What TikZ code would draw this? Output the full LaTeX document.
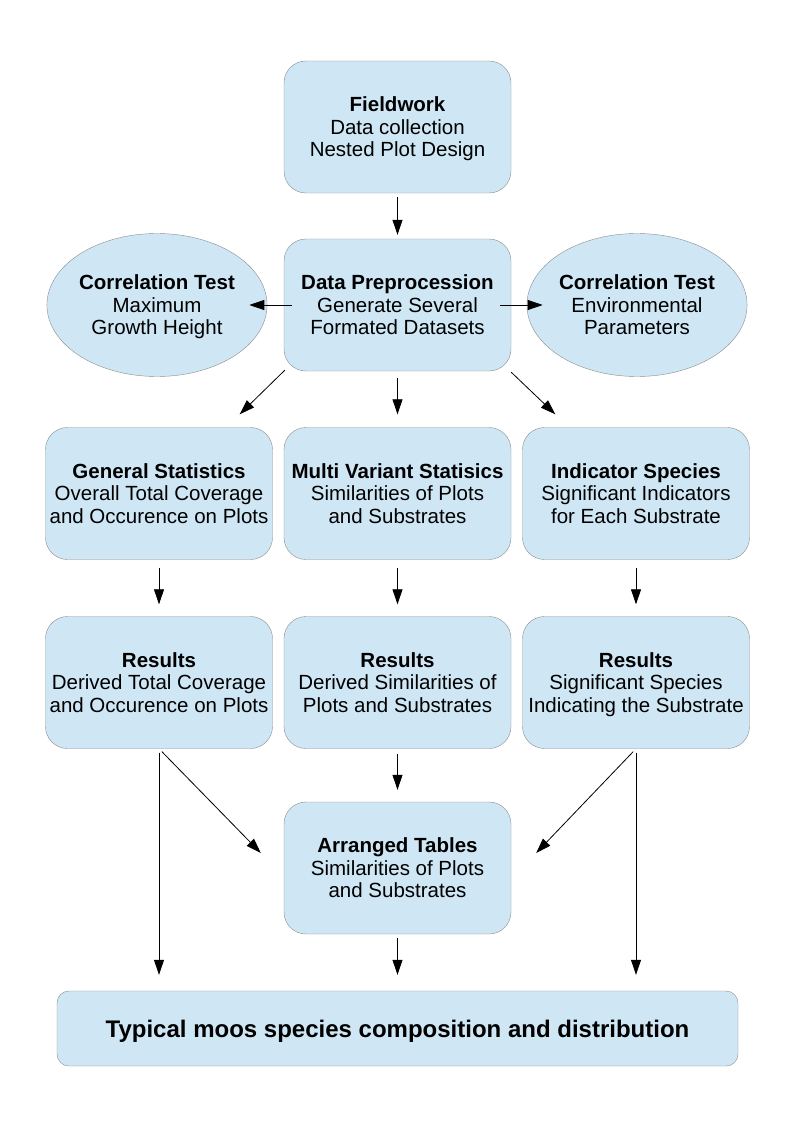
\documentclass[tikz,border=0pt]{standalone}
\usepackage{fontspec}
\setmainfont{Liberation Sans}
\usetikzlibrary{shapes.geometric,arrows.meta,positioning,calc}
\definecolor{boxfill}{HTML}{CFE7F5}
\definecolor{boxline}{HTML}{8C8C8C}
\tikzset{
  box/.style={draw=boxline,fill=boxfill,rounded corners=22pt,align=center,
    minimum width=227pt,minimum height=132pt,inner sep=0pt,text depth=0pt,
    font=\fontsize{20.5}{22.5}\selectfont},
  test/.style={ellipse,draw=boxline,fill=boxfill,align=center,
    minimum width=216pt,minimum height=143pt,inner sep=0pt,text depth=0pt,
    font=\fontsize{20.5}{22.5}\selectfont},
  wide/.style={box,minimum width=681pt,minimum height=75pt,rounded corners=12pt,
    font=\fontsize{24}{28}\selectfont\bfseries},
  arr/.style={-{Triangle[length=15pt,width=10pt]},line width=0.8pt}
}
\begin{document}
\begin{tikzpicture}[x=1pt,y=-1pt,node distance=4cm,on grid,auto]
   \useasboundingbox (0,0) rectangle (794,1123);
   \node [box] (FW) at (397.5,127) {\textbf{Fieldwork}\\Data collection\\Nested Plot Design};
   \node [box] (DP) [below=178pt of FW] {\textbf{Data Preprocession}\\Generate Several\\Formated Datasets};
   \node [test] (CL) [left=240.5pt of DP] {\textbf{Correlation Test}\\Maximum\\Growth Height};
   \node [test] (CR) [right=239.5pt of DP] {\textbf{Correlation Test}\\Environmental\\Parameters};
   \node [box] (MV) [below=188.5pt of DP] {\textbf{Multi Variant Statisics}\\Similarities of Plots\\and Substrates};
   \node [box] (GS) [left=238.5pt of MV] {\textbf{General Statistics}\\Overall Total Coverage\\and Occurence on Plots};
   \node [box] (IS) [right=238.5pt of MV] {\textbf{Indicator Species}\\Significant Indicators\\for Each Substrate};
   \node [box] (R1) [below=189pt of GS] {\textbf{Results}\\Derived Total Coverage\\and Occurence on Plots};
   \node [box] (R2) [below=189pt of MV] {\textbf{Results}\\Derived Similarities of\\Plots and Substrates};
   \node [box] (R3) [below=189pt of IS] {\textbf{Results}\\Significant Species\\Indicating the Substrate};
   \node [box] (AT) [below=185.5pt of R2] {\textbf{Arranged Tables}\\Similarities of Plots\\and Substrates};
   \node [wide] (TM) [below=160.5pt of AT] {Typical moos species composition and distribution};

   % top part
   \draw [arr,shorten <=4pt,shorten >=4pt] (FW.south) -- (DP.north);
   \draw [arr,shorten <=-8pt,shorten >=-18pt] (DP.west) -- (CL.east);
   \draw [arr,shorten <=-11pt,shorten >=-16pt] (DP.east) -- (CR.west);
   \draw [arr] ($(DP.south west)+(1,-1)$) -- ($(GS.north east)+(-33,-13)$);
   \draw [arr,shorten <=7pt,shorten >=13pt] (DP.south) -- (MV.north);
   \draw [arr] ($(DP.south east)+(0,1)$) -- ($(IS.north west)+(33,-13)$);

   % statistics to results
   \foreach \a/\b in {GS/R1,MV/R2,IS/R3}
     \draw [arr,shorten <=8pt,shorten >=12pt] (\a.south) -- (\b.north);

   % results to tables and summary
   \draw [arr,shorten <=4pt,shorten >=16pt] (R1.south) -- (R1.south |- TM.north);
   \draw [arr,shorten <=4pt] (R1.south) -- ($(AT.west)+(-23,-15)$);
   \draw [arr,shorten <=5pt,shorten >=12pt] (R2.south) -- (AT.north);
   \draw [arr,shorten <=4pt,shorten >=16pt] (AT.south) -- (TM.north);
   \draw [arr,shorten <=4pt] (R3.south) -- ($(AT.east)+(25,-15)$);
   \draw [arr,shorten <=4pt,shorten >=16pt] (R3.south) -- (R3.south |- TM.north);
\end{tikzpicture}
\end{document}
